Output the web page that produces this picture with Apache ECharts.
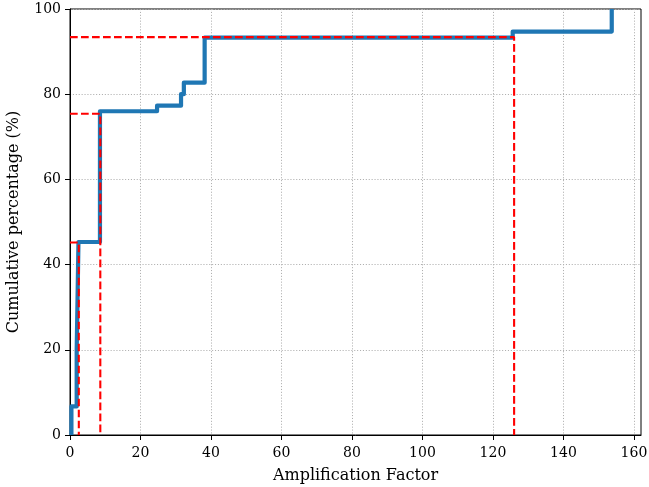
<!DOCTYPE html>
<html>
<head>
<meta charset="utf-8">
<script src="https://cdn.jsdelivr.net/npm/echarts@6/dist/echarts.min.js"></script>
<style>html,body{margin:0;padding:0;background:#fff}#c{width:649px;height:487px}</style>
</head>
<body>
<div id="c"></div>
<script>
// Step CDF: x position of each jump and the cumulative percentage after it
const stepX = [0.4, 0.4, 1.9, 2.4, 8.5, 24.7, 31.5, 32.3, 38.2, 125.6, 153.7];
const stepY = [0, 6.7, 20.0, 45.3, 76.0, 77.3, 80.0, 82.7, 93.3, 94.7, 100];
// Red dashed reference lines (x, percentage)
const refX = [2.5, 8.6, 126.0];
const refY = [45.2, 75.4, 93.4];
const xTicks = [0, 20, 40, 60, 80, 100, 120, 140, 160];
const yTicks = [0, 20, 40, 60, 80, 100];
const xLabel = 'Amplification Factor';
const yLabel = 'Cumulative percentage (%)';

const font = 'DejaVu Serif';
const chart = echarts.init(document.getElementById('c'), null, {renderer: 'canvas'});

const series = [{
  type: 'line',
  step: 'end',
  data: stepX.map((x, i) => [x, stepY[i]]),
  symbol: 'none',
  lineStyle: {color: '#1f77b4', width: 4.2, join: 'round', cap: 'butt'},
  z: 3,
  animation: false
}];
refX.forEach((x, i) => {
  series.push({
    type: 'line',
    data: [[0, refY[i]], [x, refY[i]], [x, 0]],
    symbol: 'none',
    lineStyle: {color: '#ff0000', width: 2.1, type: [7.7, 3.3], cap: 'butt'},
    z: 4,
    animation: false
  });
});

chart.setOption({
  animation: false,
  backgroundColor: '#fff',
  grid: {left: 70, top: 9, right: 8, bottom: 52, show: true, borderColor: '#000', borderWidth: 1,
         backgroundColor: 'transparent', containLabel: false, outerBoundsMode: 'none'},
  xAxis: {
    type: 'value', min: 0, max: 162, interval: 20,
    name: xLabel, nameLocation: 'middle', nameGap: 33,
    nameTextStyle: {fontFamily: font, fontSize: 16, color: '#000'},
    axisLine: {show: true, onZero: false, lineStyle: {color: '#000', width: 1}},
    axisTick: {show: true, length: 5, lineStyle: {color: '#000', width: 1}, customValues: xTicks},
    axisLabel: {fontFamily: font, fontSize: 14, color: '#000', margin: 11, customValues: xTicks},
    splitLine: {show: true, lineStyle: {color: '#b0b0b0', width: 1, type: [1.1, 1.8]}}
  },
  yAxis: {
    type: 'value', min: 0, max: 100, interval: 20,
    name: yLabel, nameLocation: 'middle', nameGap: 48, nameRotate: 90,
    nameTextStyle: {fontFamily: font, fontSize: 16, color: '#000'},
    axisLine: {show: true, onZero: false, lineStyle: {color: '#000', width: 1}},
    axisTick: {show: true, length: 5, lineStyle: {color: '#000', width: 1}},
    axisLabel: {fontFamily: font, fontSize: 14, color: '#000', margin: 9},
    splitLine: {show: true, lineStyle: {color: '#b0b0b0', width: 1, type: [1.1, 1.8]}}
  },
  series: series
});
</script>
</body>
</html>
